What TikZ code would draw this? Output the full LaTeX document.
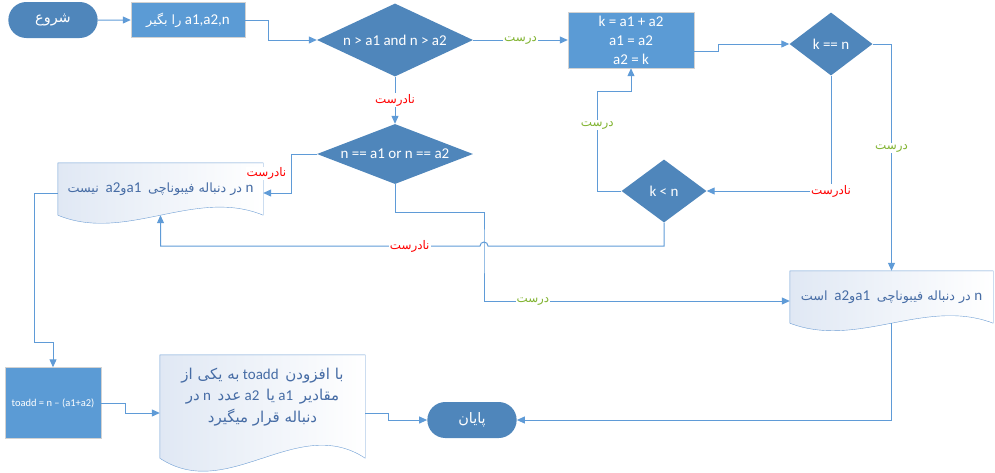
\documentclass[tikz,border=0pt]{standalone}
\usepackage{fontspec}
\setmainfont{Carlito}
\newfontfamily\fa[Script=Arabic,Scale=0.85]{DejaVu Sans}
\newfontfamily\fb[Script=Arabic,Scale=1.0]{DejaVu Sans}
\TeXXeTstate=1
\usetikzlibrary{shapes.geometric,shapes.misc,arrows.meta,calc,backgrounds}
\definecolor{darkbox}{RGB}{79,134,187}
\definecolor{lightbox}{RGB}{91,155,213}
\definecolor{flowline}{RGB}{95,155,215}
\definecolor{docline}{RGB}{110,158,212}
\definecolor{doctext}{RGB}{70,108,165}
\definecolor{doctop}{RGB}{224,232,244}
\definecolor{truegreen}{RGB}{130,180,50}
\tikzset{%
  terminal/.style = {shape=rounded rectangle, fill=darkbox, text=white,
    minimum width=96pt, minimum height=36pt, font=\fontsize{17}{20}\selectfont},
  process/.style = {shape=rectangle, fill=lightbox, draw=gray!35, text=white,
    align=center, inner sep=2pt},
  decision/.style = {shape=diamond, fill=darkbox, text=white, inner sep=0pt},
  docbox/.style = {shape=rectangle, text=doctext, align=center, inner sep=2pt},
  flow/.style = {draw=flowline, line width=1pt, -{Triangle[length=8pt,width=7pt]}},
  yes/.style = {text=truegreen, fill=white, inner sep=1pt,
    font=\fontsize{14}{16}\selectfont\fa},
  no/.style = {text=red, fill=white, inner sep=1pt,
    font=\fontsize{14}{16}\selectfont\fa}
}
% document shape: node, drop of the ends, wave
\newcommand\docshape[3]{%
  \draw[docline, left color=doctop, right color=white]
    (#1.north west) -- (#1.north east) -- ($(#1.south east)+(0,#2)$)
    .. controls ($(#1.south east)+(-68,#2-#3)$) and ($(#1.south west)+(68,#2+#3)$)
    .. ($(#1.south west)+(0,#2)$) -- cycle;}

\begin{document}
\begin{tikzpicture}[x=1pt,y=-1pt,font=\fontsize{15}{19}\selectfont]
\useasboundingbox (0,0) rectangle (995,472);

\node[terminal] (start) at (53,20) {\fa شروع};
\node[process, minimum width=114pt, minimum height=35pt] (read) at (188,20)
  {\beginR\beginL a1,a2,n\endL{} {\fa را بگیر}\endR};
\node[decision, aspect=2.14, minimum width=156pt, minimum height=73pt] (cond1) at (395,40)
  {n > a1 and n > a2};
\node[process, minimum width=126pt, minimum height=56pt] (step) at (631,40)
  {k = a1 + a2\\ a1 = a2\\ a2 = k};
\node[decision, aspect=1.3, minimum width=83pt, minimum height=63pt] (equal) at (831,44) {k == n};
\node[decision, aspect=1.3, minimum width=85pt, minimum height=63pt] (less) at (664,191) {k < n};
\node[decision, aspect=2.6, minimum width=156pt, minimum height=60pt] (cond2) at (395,154)
  {n == a1 or n == a2};
\node[docbox, minimum width=205pt, minimum height=52pt] (notfib) at (160.5,189)
  {\beginR\beginL n\endL{} {\fa در دنباله فیبوناچی}\ \ \beginL a1\endL{}{\fa و}\beginL a2\endL{}\ \ {\fa نیست}\endR};
\node[docbox, minimum width=203pt, minimum height=52pt] (isfib) at (891.5,297)
  {\beginR\beginL n\endL{} {\fa در دنباله فیبوناچی}\ \ \beginL a1\endL{}{\fa و}\beginL a2\endL{}\ \ {\fa است}\endR};
\node[process, minimum width=96pt, minimum height=71pt,
  font=\fontsize{10.5}{12}\selectfont] (toadd) at (53,403) {toadd = n – (a1+a2)};
\node[docbox, minimum width=205pt, minimum height=84pt,
  font=\fontsize{15}{21.5}\selectfont] (hint) at (262.5,397)
  {\beginR{\fb با افزودن}\ \ \beginL toadd\endL{} {\fb به یکی از}\endR\\
   \beginR{\fb مقادیر}\ \ \beginL a1\endL{} {\fb یا}\ \ \beginL a2\endL{} {\fb عدد}\ \ \beginL n\endL{} {\fb در}\endR\\
   \beginR{\fb دنباله قرار میگیرد}\endR};
\node[terminal] (stop) at (472,420) {\fa پایان};
\coordinate (cross) at (484,246);

\begin{scope}[on background layer]
  \docshape{notfib}{0}{28}
  \docshape{isfib}{0}{26}
  \docshape{hint}{19}{45}
\end{scope}

\draw[flow] (start) -- (read);
\draw[flow] (read.east) -- ++(23,0) |- (cond1.west);
\draw[flow] (cond1) -- node[yes]{درست} (step);
\draw[flow] ([yshift=-11pt]step.east) -- ++(24,0) |- (equal.west);
\draw[flow] (equal.east) -| node[yes, pos=0.73]{درست} (isfib.north);
\draw[flow] (equal.south) |- node[no]{نادرست} (less.east);
\draw[flow] (less.west) -- ++(-24,0) -- ++(0,-100) node[yes, pos=0.66]{درست}
  -| (step.south);
\draw[flow] (cond1) -- node[no]{نادرست} (cond2);
\draw[flow] (cond2.west) -- ++(-25,0) |- node[no, pos=0.25, left=4pt]{نادرست}
  ([yshift=-4pt]notfib.east);
\draw[flow] (cond2.south) -- ++(0,28) -| (cross) |- node[yes, pos=0.58]{درست}
  ([yshift=-4pt]isfib.west);
\draw[flow] (less.south) |- ([xshift=4pt]cross) arc[start angle=0, end angle=180, radius=4pt]
  -| node[no, pos=0.11]{نادرست} (notfib.south);
\draw[flow] ([yshift=-4pt]notfib.west) -- ++(-23,0) |- ([yshift=25pt]toadd.north)
  -- (toadd.north);
\draw[flow] (toadd.east) -- ++(24,0) |- ([yshift=-16pt]hint.west);
\draw[flow] ([yshift=-16pt]hint.east) -- ++(23,0) |- (stop.west);
\draw[flow] (isfib.south) |- (stop.east);
\end{tikzpicture}
\end{document}
